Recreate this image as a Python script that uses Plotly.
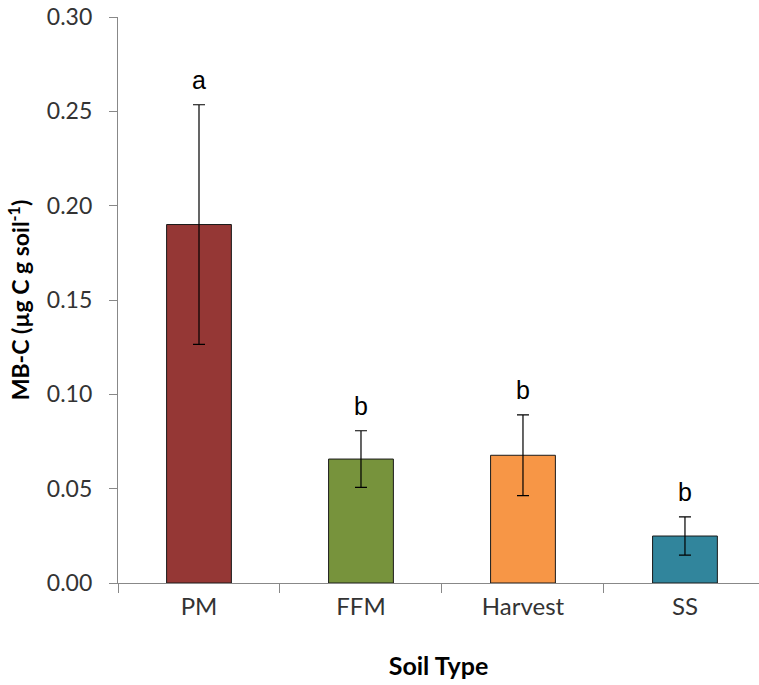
import plotly.graph_objects as go

categories = ["PM", "FFM", "Harvest", "SS"]
values = [0.190, 0.0657, 0.0677, 0.0249]
errors = [0.0635, 0.0150, 0.0214, 0.0101]
letters = ["a", "b", "b", "b"]
colors = ["#953735", "#77933C", "#F79646", "#31859C"]
y_ticks = [0.00, 0.05, 0.10, 0.15, 0.20, 0.25, 0.30]

FONT = "Lato"
LETTER_FONT = "Liberation Sans"

fig = go.Figure()
fig.add_trace(go.Bar(
    x=categories, y=values,
    marker=dict(color=colors, line=dict(color="#1a1a1a", width=1)),
    width=0.4,
    error_y=dict(type="data", array=errors, visible=True, color="black",
                 thickness=1.2, width=6),
    showlegend=False,
))

for c, v, e, l in zip(categories, values, errors, letters):
    fig.add_annotation(x=c, y=v + e, text=l, showarrow=False,
                       yanchor="middle", yshift=25,
                       font=dict(family=LETTER_FONT, size=25, color="black"))

fig.update_layout(
    width=759, height=685,
    margin=dict(l=118, r=0, t=17, b=102),
    plot_bgcolor="white", paper_bgcolor="white",
    font=dict(family=FONT, color="#333333"),
    bargap=0.6,
)
fig.update_xaxes(
    range=[-0.5, 3.457],
    showline=True, linecolor="#888888", linewidth=1.3,
    ticks="outside", tickson="boundaries", ticklen=9, tickcolor="#888888",
    tickfont=dict(family=FONT, size=24, color="#333333"),
    ticklabelstandoff=2,
    title=dict(text="<b>Soil Type</b>", font=dict(family=FONT, size=25, color="black"),
               standoff=38),
    showgrid=False, zeroline=False,
)
fig.update_yaxes(
    range=[0, 0.30],
    tickvals=y_ticks, tickformat=".2f",
    showline=True, linecolor="#888888", linewidth=1.3,
    ticks="outside", ticklen=8, tickcolor="#888888",
    tickfont=dict(family=FONT, size=23, color="#333333"),
    ticklabelstandoff=12,
    title=dict(text="<b>MB-C (µg C g soil<sup>-1</sup>)</b>",
               font=dict(family=FONT, size=23, color="black"), standoff=10),
    showgrid=False, zeroline=False,
)

fig.write_html("out.html")
